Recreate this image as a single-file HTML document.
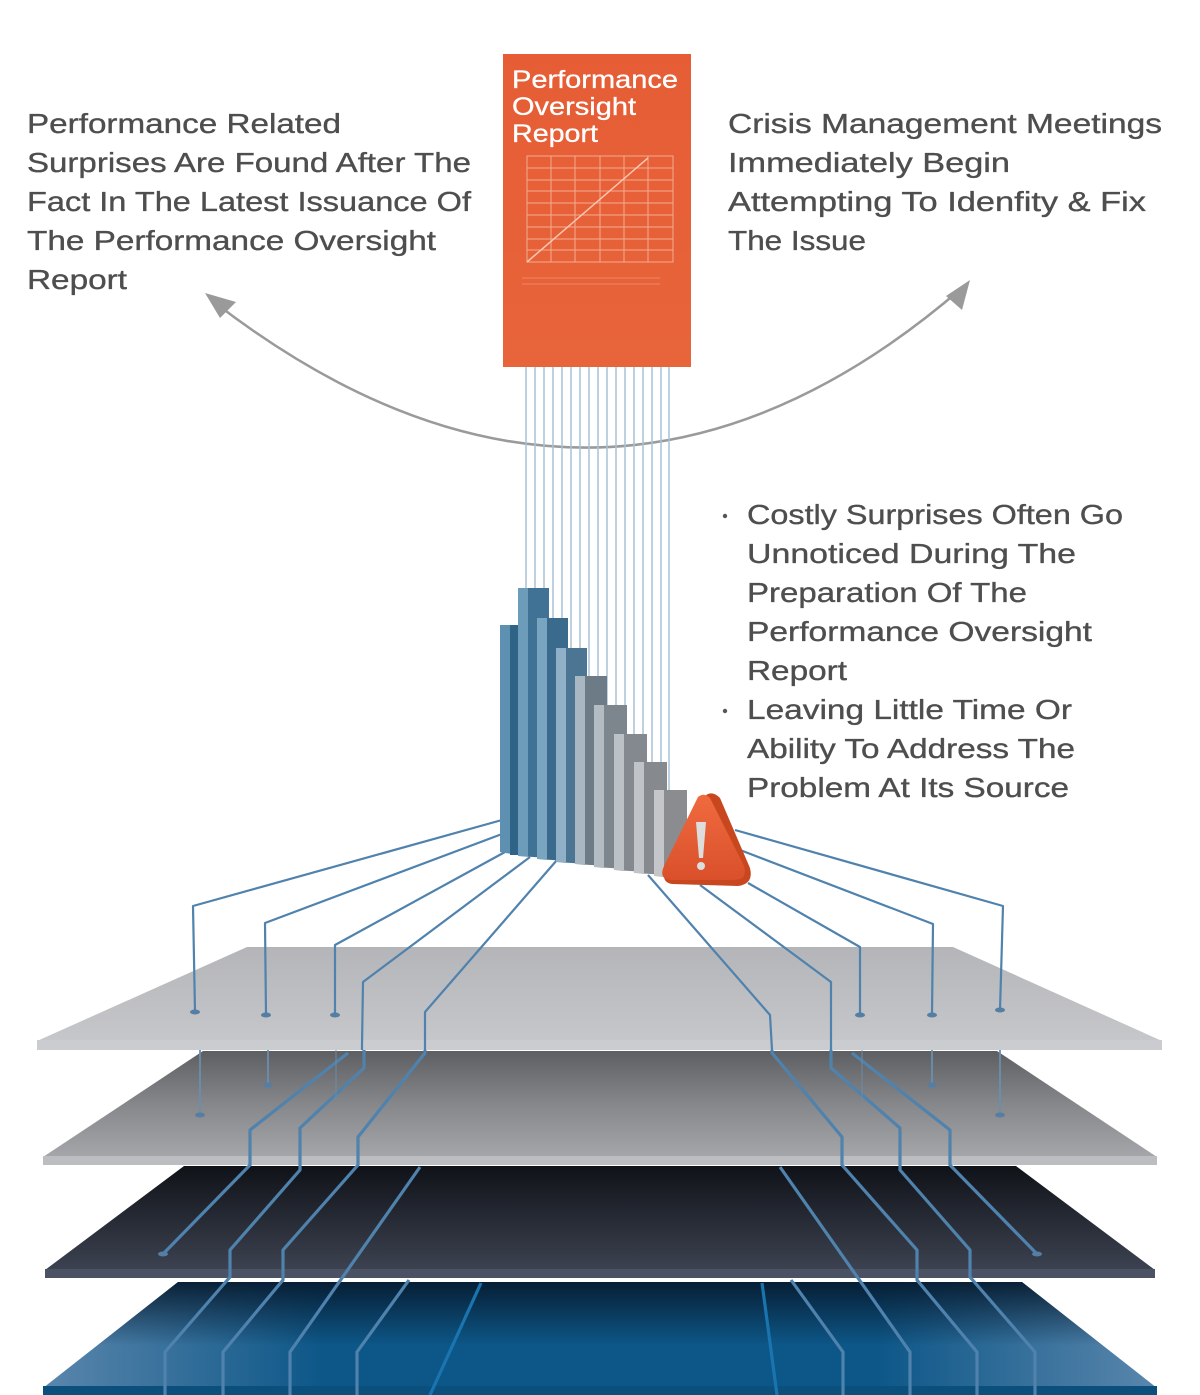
<!DOCTYPE html>
<html><head><meta charset="utf-8"><style>
html,body{margin:0;padding:0;background:#fff;}
svg{display:block;}
.t{font-family:"Liberation Sans",sans-serif;font-size:28px;fill:#4e4e4e;stroke:#4e4e4e;stroke-width:0.35px;}
</style></head><body>
<svg width="1200" height="1395" viewBox="0 0 1200 1395" xmlns="http://www.w3.org/2000/svg">
<defs>
<linearGradient id="l1" x1="0" y1="0" x2="0" y2="1"><stop offset="0" stop-color="#b4b5b8"/><stop offset="1" stop-color="#c6c7ca"/></linearGradient>
<linearGradient id="l2" x1="0" y1="0" x2="0" y2="1"><stop offset="0" stop-color="#5e5f62"/><stop offset="0.5" stop-color="#86878a"/><stop offset="1" stop-color="#a5a6a9"/></linearGradient>
<linearGradient id="l3" x1="0" y1="0" x2="0" y2="1"><stop offset="0" stop-color="#101218"/><stop offset="1" stop-color="#3c4250"/></linearGradient>
<linearGradient id="l4" x1="0" y1="0" x2="1" y2="0"><stop offset="0" stop-color="#5a86ac"/><stop offset="0.25" stop-color="#0d5788"/><stop offset="0.75" stop-color="#0d5788"/><stop offset="1" stop-color="#5a86ac"/></linearGradient>
<linearGradient id="l4b" x1="0" y1="0" x2="0" y2="1"><stop offset="0" stop-color="#06182b" stop-opacity="0.9"/><stop offset="0.6" stop-color="#06182b" stop-opacity="0"/></linearGradient>
<linearGradient id="rep" x1="0" y1="0" x2="0" y2="1"><stop offset="0" stop-color="#e65d35"/><stop offset="1" stop-color="#e8643a"/></linearGradient>
<linearGradient id="tri" x1="0" y1="0" x2="0" y2="1"><stop offset="0" stop-color="#f06a3f"/><stop offset="1" stop-color="#d9502a"/></linearGradient>
</defs>

<!-- Layer 4 (blue) -->
<polygon points="178,1282 1022,1282 1157,1388 43,1388" fill="url(#l4)"/>
<polygon points="178,1282 1022,1282 1157,1388 43,1388" fill="url(#l4b)"/>
<rect x="43" y="1386" width="1114" height="9" fill="#0b4f7c"/>
<!-- Layer 3 (dark) -->
<polygon points="184,1166 1016,1166 1155,1270 45,1270" fill="url(#l3)"/>
<rect x="45" y="1269" width="1110" height="9" fill="#4b5264"/>
<!-- Layer 2 -->
<polygon points="203,1051 997,1051 1157,1157 43,1157" fill="url(#l2)"/>
<rect x="43" y="1156" width="1114" height="9" fill="#bcbdc0"/>
<!-- Layer 1 -->
<polygon points="247,947 953,947 1162,1041 37,1041" fill="url(#l1)"/>
<rect x="37" y="1040" width="1125" height="10" fill="#cbcccf"/>

<!-- wires on lower layers -->
<g fill="none" stroke="#4f82ad" stroke-width="3.2" stroke-linejoin="round">
<polyline points="348,1053 250,1130 250,1165 163,1254"/>
<polyline points="364,1050 364,1068 300,1128 300,1170 230,1250 230,1277 165,1352 165,1395"/>
<polyline points="425,1050 425,1053 358,1137 358,1165 283,1250 283,1280 223,1352 223,1395"/>
<polyline points="420,1167 290,1352 290,1395"/>
<polyline points="409,1280 357,1352 357,1395"/>
<polyline points="481,1283 430,1395" stroke="#1a74b0"/>
<polyline points="852,1053 950,1130 950,1165 1037,1254"/>
<polyline points="831,1050 831,1068 900,1128 900,1170 970,1250 970,1277 1035,1352 1035,1395"/>
<polyline points="772,1050 772,1053 842,1137 842,1165 917,1250 917,1280 977,1352 977,1395"/>
<polyline points="780,1167 910,1352 910,1395"/>
<polyline points="791,1280 843,1352 843,1395"/>
<polyline points="762,1283 777,1395" stroke="#1a74b0"/>
</g>
<g fill="none" stroke="#6a8fae" stroke-width="1.8">
<line x1="200" y1="1050" x2="200" y2="1114"/><line x1="268" y1="1050" x2="268" y2="1084"/>
<line x1="1000" y1="1050" x2="1000" y2="1114"/><line x1="932" y1="1050" x2="932" y2="1084"/>
<line x1="336" y1="1050" x2="336" y2="1100" stroke-opacity="0.5"/><line x1="862" y1="1050" x2="862" y2="1100" stroke-opacity="0.5"/>
</g>
<g fill="#557ea3">
<ellipse cx="200" cy="1115" rx="5" ry="2.5"/><ellipse cx="268" cy="1085" rx="5" ry="2.5"/>
<ellipse cx="1000" cy="1115" rx="5" ry="2.5"/><ellipse cx="932" cy="1085" rx="5" ry="2.5"/>
<ellipse cx="163" cy="1254" rx="5" ry="2.5"/><ellipse cx="1037" cy="1254" rx="5" ry="2.5"/>
</g>

<!-- curved arrow -->
<path d="M214,302 Q600,600 962,288" fill="none" stroke="#9a9a9a" stroke-width="2.5"/>
<polygon points="205,293 236,302 220,318" fill="#9a9a9a"/>
<polygon points="970,280 962,310 946,296" fill="#9a9a9a"/>

<!-- vertical threads from report -->
<g stroke="#a8c2d6" stroke-width="1.5">
<line x1="526" y1="366" x2="526" y2="630"/><line x1="535" y1="366" x2="535" y2="600"/><line x1="544" y1="366" x2="544" y2="600"/>
<line x1="553" y1="366" x2="553" y2="625"/><line x1="562" y1="366" x2="562" y2="625"/><line x1="571" y1="366" x2="571" y2="655"/>
<line x1="580" y1="366" x2="580" y2="655"/><line x1="589" y1="366" x2="589" y2="680"/><line x1="598" y1="366" x2="598" y2="710"/>
<line x1="607" y1="366" x2="607" y2="710"/><line x1="616" y1="366" x2="616" y2="740"/><line x1="625" y1="366" x2="625" y2="740"/>
<line x1="634" y1="366" x2="634" y2="765"/><line x1="643" y1="366" x2="643" y2="765"/><line x1="652" y1="366" x2="652" y2="795"/>
<line x1="661" y1="366" x2="661" y2="795"/><line x1="669" y1="366" x2="669" y2="795"/>
</g>

<!-- wires from bars to top layer -->
<g fill="none" stroke="#4f82ad" stroke-width="2.2" stroke-linejoin="round">
<polyline points="502,820 193,906 195,1012"/>
<polyline points="502,834 265,923 266,1015"/>
<polyline points="505,852 335,945 335,1015"/>
<polyline points="530,857 363,982 362,1045 362,1050"/>
<polyline points="557,860 425,1012 425,1050"/>
<polyline points="735,830 1003,906 1000,1010"/>
<polyline points="740,850 933,924 932,1015"/>
<polyline points="748,883 860,947 860,1015"/>
<polyline points="700,885 831,982 831,1050"/>
<polyline points="648,875 770,1015 772,1050"/>
</g>
<g fill="#557ea3">
<ellipse cx="195" cy="1012" rx="5" ry="2.5"/><ellipse cx="266" cy="1015" rx="5" ry="2.5"/><ellipse cx="335" cy="1015" rx="5" ry="2.5"/>
<ellipse cx="1000" cy="1010" rx="5" ry="2.5"/><ellipse cx="932" cy="1015" rx="5" ry="2.5"/><ellipse cx="860" cy="1015" rx="5" ry="2.5"/>
</g>

<!-- bars -->
<g>
<polygon points="500,625 517,625 517,855 500,852" fill="#5e90b1"/><rect x="510" y="625" width="8" height="230" fill="#2f6487"/>
<polygon points="518,588 549,588 549,858 518,856" fill="#3f7294"/><rect x="518" y="588" width="10" height="268" fill="#6d9cbb"/>
<polygon points="537,618 568,618 568,861 537,859" fill="#3a6b8c"/><rect x="537" y="618" width="10" height="241" fill="#7aa5c1"/>
<polygon points="556,648 587,648 587,864 556,862" fill="#4b7593"/><rect x="556" y="648" width="10" height="214" fill="#8fb0c6"/>
<polygon points="575,676 607,676 607,866 575,864" fill="#6d7b86"/><rect x="575" y="676" width="10" height="188" fill="#a9b7c2"/>
<polygon points="594,705 627,705 627,869 594,867" fill="#7d858d"/><rect x="594" y="705" width="10" height="162" fill="#b4bcc3"/>
<polygon points="614,734 647,734 647,872 614,870" fill="#83898f"/><rect x="614" y="734" width="10" height="136" fill="#bcc1c6"/>
<polygon points="634,762 667,762 667,875 634,873" fill="#868a8f"/><rect x="634" y="762" width="10" height="111" fill="#c0c3c7"/>
<polygon points="654,790 687,790 687,878 654,876" fill="#8a8c90"/><rect x="654" y="790" width="10" height="86" fill="#c4c6c9"/>
</g>
<!-- warning triangle -->
<path d="M705,796 Q712,790 720,798 L750,868 Q754,884 738,886 L672,884 Q660,882 666,868 Z" fill="#c8471f"/>
<path d="M698,797 Q704,792 710,798 L744,866 Q748,880 734,880 L672,880 Q658,880 664,866 Z" fill="url(#tri)"/>
<path d="M696,822 L706,822 L703,858 L699,858 Z" fill="#ddd"/>
<circle cx="701" cy="866" r="4" fill="#ddd"/>

<!-- report -->
<rect x="503" y="54" width="188" height="313" fill="url(#rep)"/>
<g stroke="#f4b49c" stroke-width="1" fill="none" opacity="0.9">
<rect x="527" y="156" width="146" height="106"/>
<line x1="551" y1="156" x2="551" y2="262"/><line x1="575" y1="156" x2="575" y2="262"/><line x1="600" y1="156" x2="600" y2="262"/><line x1="624" y1="156" x2="624" y2="262"/><line x1="648" y1="156" x2="648" y2="262"/>
<line x1="527" y1="168" x2="673" y2="168"/><line x1="527" y1="180" x2="673" y2="180"/><line x1="527" y1="191" x2="673" y2="191"/><line x1="527" y1="203" x2="673" y2="203"/><line x1="527" y1="215" x2="673" y2="215"/><line x1="527" y1="227" x2="673" y2="227"/><line x1="527" y1="239" x2="673" y2="239"/><line x1="527" y1="250" x2="673" y2="250"/>
<line x1="527" y1="262" x2="648" y2="158" stroke="#fbd3c2" stroke-width="1.5"/>
<line x1="522" y1="278" x2="660" y2="278" opacity="0.5"/><line x1="522" y1="284" x2="660" y2="284" opacity="0.5"/>
</g>
<g font-family="Liberation Sans,sans-serif" font-size="25" fill="#fff" stroke="#fff" stroke-width="0.3">
<text x="512" y="88" textLength="166" lengthAdjust="spacingAndGlyphs">Performance</text>
<text x="512" y="115" textLength="124" lengthAdjust="spacingAndGlyphs">Oversight</text>
<text x="512" y="142" textLength="86" lengthAdjust="spacingAndGlyphs">Report</text>
</g>

<!-- texts -->
<g class="t">
<text x="27" y="133" textLength="314" lengthAdjust="spacingAndGlyphs">Performance Related</text>
<text x="27" y="172" textLength="444" lengthAdjust="spacingAndGlyphs">Surprises Are Found After The</text>
<text x="27" y="211" textLength="444" lengthAdjust="spacingAndGlyphs">Fact In The Latest Issuance Of</text>
<text x="27" y="250" textLength="409" lengthAdjust="spacingAndGlyphs">The Performance Oversight</text>
<text x="27" y="289" textLength="100" lengthAdjust="spacingAndGlyphs">Report</text>

<text x="728" y="133" textLength="434" lengthAdjust="spacingAndGlyphs">Crisis Management Meetings</text>
<text x="728" y="172" textLength="282" lengthAdjust="spacingAndGlyphs">Immediately Begin</text>
<text x="728" y="211" textLength="418" lengthAdjust="spacingAndGlyphs">Attempting To Idenfity &amp; Fix</text>
<text x="728" y="250" textLength="138" lengthAdjust="spacingAndGlyphs">The Issue</text>

<text x="747" y="524" textLength="376" lengthAdjust="spacingAndGlyphs">Costly Surprises Often Go</text>
<text x="747" y="563" textLength="329" lengthAdjust="spacingAndGlyphs">Unnoticed During The</text>
<text x="747" y="602" textLength="280" lengthAdjust="spacingAndGlyphs">Preparation Of The</text>
<text x="747" y="641" textLength="345" lengthAdjust="spacingAndGlyphs">Performance Oversight</text>
<text x="747" y="680" textLength="100" lengthAdjust="spacingAndGlyphs">Report</text>
<text x="747" y="719" textLength="325" lengthAdjust="spacingAndGlyphs">Leaving Little Time Or</text>
<text x="747" y="758" textLength="328" lengthAdjust="spacingAndGlyphs">Ability To Address The</text>
<text x="747" y="797" textLength="322" lengthAdjust="spacingAndGlyphs">Problem At Its Source</text>
</g>
<circle cx="725" cy="516" r="2.2" fill="#555"/>
<circle cx="725" cy="711" r="2.2" fill="#555"/>
</svg>
</body></html>
